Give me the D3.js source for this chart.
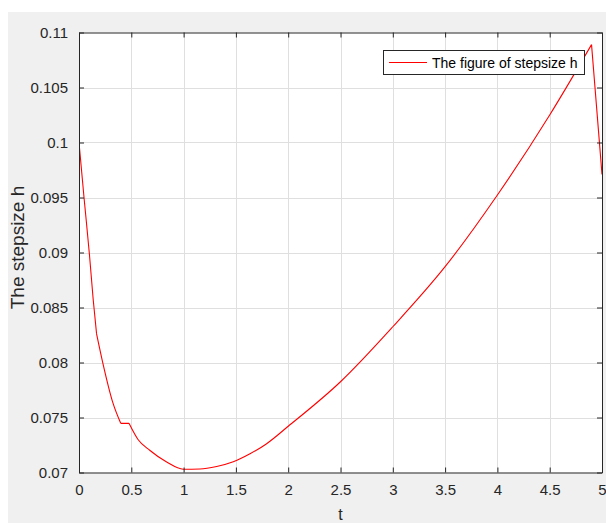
<!DOCTYPE html>
<html><head><meta charset="utf-8">
<script src="https://cdn.jsdelivr.net/npm/d3@7"></script>
<style>html,body{margin:0;padding:0;background:#fff;}svg{display:block;}</style>
</head><body>
<script>
const tValues = [0, 0.05, 0.10, 0.135, 0.168, 0.229, 0.325, 0.399, 0.478, 0.564, 0.679, 0.838, 0.997, 1.157, 1.316, 1.475, 1.635, 1.794, 2.0, 2.5, 3.0, 3.5, 4.0, 4.5, 4.90, 5.0];
const hValues = [0.1000, 0.0948, 0.0898, 0.0858, 0.0826, 0.0799, 0.0763, 0.07447, 0.07447, 0.07300, 0.0720, 0.07095, 0.07030, 0.07032, 0.07055, 0.07098, 0.07170, 0.07262, 0.0742, 0.07825, 0.08325, 0.08871, 0.09523, 0.1025, 0.1089, 0.0971];
// indices where the stepsize curve has a corner (start of a new piece)
const cornerIndex = [0, 4, 7, 8, 24, 25];
const xTicks = [0, 0.5, 1, 1.5, 2, 2.5, 3, 3.5, 4, 4.5, 5];
const xTickLabels = ["0", "0.5", "1", "1.5", "2", "2.5", "3", "3.5", "4", "4.5", "5"];
const yTicks = [0.07, 0.075, 0.08, 0.085, 0.09, 0.095, 0.1, 0.105, 0.11];
const yTickLabels = ["0.07", "0.075", "0.08", "0.085", "0.09", "0.095", "0.1", "0.105", "0.11"];
const xLabel = "t";
const yLabel = "The stepsize h";
const legendLabel = "The figure of stepsize h";

const W = 606, H = 523;
const L = 79, R = 602, T = 32.5, B = 472.5;
const axisColor = "#262626";
const font = "'Liberation Sans', Arial, sans-serif";

const svg = d3.select("body").append("svg").attr("width", W).attr("height", H);
svg.append("rect").attr("x", 8).attr("y", 12).attr("width", W - 8).attr("height", H - 12).attr("fill", "#f0f0f0");

const x = d3.scaleLinear().domain([0, 5]).range([L, R]);
const y = d3.scaleLinear().domain([0.07, 0.11]).range([B, T]);

svg.append("rect").attr("x", L).attr("y", T).attr("width", R - L).attr("height", B - T).attr("fill", "#fff");

// grid
const grid = svg.append("g").attr("stroke", "#dfdfdf").attr("stroke-width", 1);
grid.selectAll("line.v").data(xTicks.slice(1, -1)).join("line")
  .attr("x1", d => Math.round(x(d)) + 0.5).attr("x2", d => Math.round(x(d)) + 0.5)
  .attr("y1", T).attr("y2", B);
grid.selectAll("line.h").data(yTicks.slice(1, -1)).join("line")
  .attr("y1", d => Math.round(y(d)) + 0.5).attr("y2", d => Math.round(y(d)) + 0.5)
  .attr("x1", L).attr("x2", R);

// data line, smooth between corners
const pts = tValues.map((t, i) => [t, hValues[i]]);
const pieces = [];
for (let k = 0; k < cornerIndex.length - 1; k++) {
  pieces.push(pts.slice(cornerIndex[k], cornerIndex[k + 1] + 1));
}
const line = d3.line().x(d => x(d[0])).y(d => y(d[1])).curve(d3.curveMonotoneX);
svg.append("clipPath").attr("id", "clip").append("rect")
  .attr("x", L).attr("y", T - 1).attr("width", R - L + 1).attr("height", B - T + 2);
svg.append("path").attr("d", pieces.map(p => line(p)).join(""))
  .attr("fill", "none").attr("stroke", "#ff0000").attr("stroke-width", 1.1)
  .attr("stroke-linejoin", "round").attr("clip-path", "url(#clip)");

// axes
const xAxisB = d3.axisBottom(x).tickValues(xTicks).tickFormat((d, i) => xTickLabels[i]).tickSizeInner(-5).tickSizeOuter(0).tickPadding(12);
const xAxisT = d3.axisTop(x).tickValues(xTicks).tickFormat("").tickSizeInner(-5).tickSizeOuter(0);
const yAxisL = d3.axisLeft(y).tickValues(yTicks).tickFormat((d, i) => yTickLabels[i]).tickSizeInner(-5).tickSizeOuter(0).tickPadding(11);
const yAxisR = d3.axisRight(y).tickValues(yTicks).tickFormat("").tickSizeInner(-5).tickSizeOuter(0);

function style(g) {
  g.selectAll("path.domain").attr("stroke", axisColor).attr("stroke-width", 1);
  g.selectAll(".tick line").attr("stroke", axisColor).attr("stroke-width", 1);
  g.selectAll(".tick text").attr("fill", axisColor).style("font-family", font).style("font-size", "15px");
}
svg.append("g").attr("transform", `translate(0,${B})`).call(xAxisB).call(style);
svg.append("g").attr("transform", `translate(0,${T})`).call(xAxisT).call(style);
svg.append("g").attr("transform", `translate(${L},0)`).call(yAxisL).call(style);
svg.append("g").attr("transform", `translate(${R},0)`).call(yAxisR).call(style);

// labels
svg.append("text").attr("x", (L + R) / 2).attr("y", 520).attr("text-anchor", "middle")
  .attr("fill", axisColor).style("font-family", font).style("font-size", "16px").text(xLabel);
svg.append("text").attr("transform", `translate(24,${(T + B) / 2 - 5}) rotate(-90)`)
  .attr("text-anchor", "middle").attr("fill", axisColor)
  .style("font-family", font).style("font-size", "19px").text(yLabel);

// legend
const lg = svg.append("g");
lg.append("rect").attr("x", 383.5).attr("y", 50.5).attr("width", 201).attr("height", 24)
  .attr("fill", "#fff").attr("stroke", axisColor).attr("stroke-width", 1);
lg.append("line").attr("x1", 389).attr("x2", 427).attr("y1", 62.5).attr("y2", 62.5)
  .attr("stroke", "#ff0000").attr("stroke-width", 1.1);
lg.append("text").attr("x", 432).attr("y", 67.5).attr("fill", "#000")
  .style("font-family", font).style("font-size", "14px").text(legendLabel);
</script>
</body></html>
